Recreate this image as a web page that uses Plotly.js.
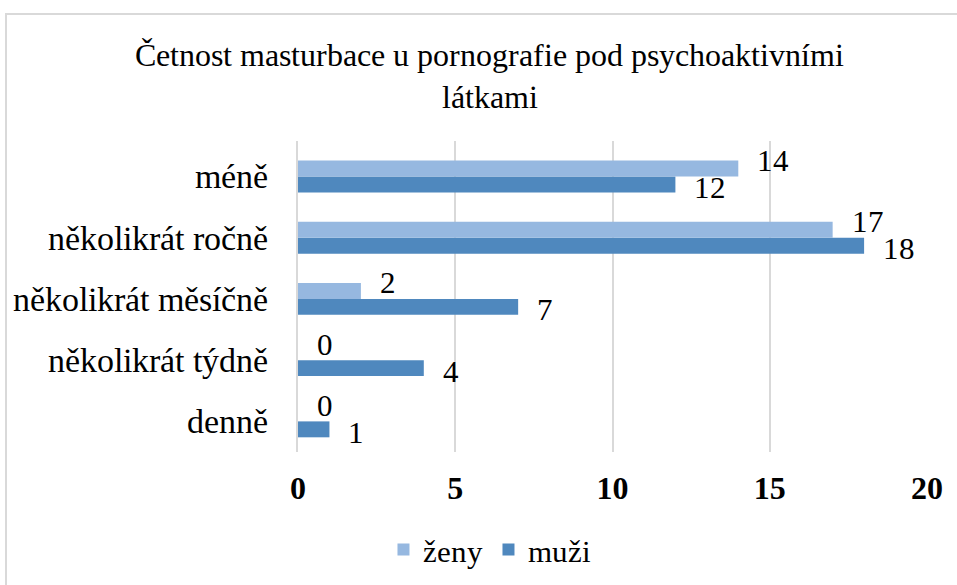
<!DOCTYPE html>
<html><head><meta charset="utf-8">
<script src="https://cdn.plot.ly/plotly-3.0.1.min.js"></script>
<style>
@font-face{font-family:'TNRLocal';src:local('Liberation Serif'),local('LiberationSerif'),local('Liberation Serif Regular'),local('Times New Roman');font-weight:400;font-style:normal;}
html,body{margin:0;padding:0;background:#fff;overflow:hidden;}
#frame{position:absolute;left:5px;top:13px;width:1000px;height:700px;border-left:2px solid #d9d9d9;border-top:2px solid #d9d9d9;}
#chart{position:absolute;left:0;top:0;width:957px;height:585px;}
</style></head>
<body>
<div id="frame"></div>
<div id="chart"></div>
<script>
const categories = ["méně","několikrát ročně","několikrát měsíčně","několikrát týdně","denně"];
const zeny = [14, 17, 2, 0, 0];
const muzi = [12, 18, 7, 4, 1];
const xTicks = [0, 5, 10, 15, 20];
const titleText = 'Četnost masturbace u pornografie pod psychoaktivními<br>látkami';

const colZeny = '#96b8e0', colMuzi = '#4f88be';

function draw(serif) {
  const traces = [
    {type:'bar', orientation:'h', name:'muži', y:categories, x:muzi, marker:{color:colMuzi}},
    {type:'bar', orientation:'h', name:'ženy', y:categories, x:zeny, marker:{color:colZeny}}
  ];
  const labelFont = {family:serif, size:31, color:'#000', weight:'normal'};
  const annotations = [];
  categories.forEach((c, i) => {
    annotations.push({x:zeny[i], y:c, xref:'x', yref:'y', text:String(zeny[i]), showarrow:false,
      xanchor:'left', yanchor:'middle', xshift:17, yshift:16, font:labelFont});
    annotations.push({x:muzi[i], y:c, xref:'x', yref:'y', text:String(muzi[i]), showarrow:false,
      xanchor:'left', yanchor:'middle', xshift:17, yshift:-11, font:labelFont});
  });
  const layout = {
    width:957, height:585,
    paper_bgcolor:'rgba(0,0,0,0)', plot_bgcolor:'rgba(0,0,0,0)',
    margin:{l:298, r:30, t:141, b:133},
    barmode:'group', bargap:0.48, bargroupgap:0,
    title:{text:titleText,
      font:{family:serif,size:32,color:'#000',weight:'normal'}, x:0.512, xanchor:'center', xref:'container',
      y:1 - 66/585, yanchor:'middle', yref:'container'},
    xaxis:{range:[0,20], tickvals:xTicks, ticktext:xTicks.map(String), showgrid:true, gridcolor:'#d9d9d9', gridwidth:2,
      zeroline:false, showline:false, ticks:'', ticklabelstandoff:14,
      tickfont:{family:'Times New Roman',size:32,color:'#000',weight:'bold'}},
    yaxis:{categoryorder:'array', categoryarray:categories.slice().reverse(), autorange:true,
      showline:true, linecolor:'#d9d9d9', linewidth:2, showgrid:false, zeroline:false,
      ticks:'', ticklabelstandoff:21, tickfont:{family:serif,size:34,color:'#000',weight:'normal'}},
    legend:{orientation:'h', x:0.512, xanchor:'center', xref:'container', y:0.06, yanchor:'middle', yref:'container',
      traceorder:'reversed', font:{family:serif,size:31,color:'#000',weight:'normal'}, itemwidth:30},
    annotations: annotations,
    showlegend:true
  };
  return Plotly.react('chart', traces, layout, {displayModeBar:false, staticPlot:true});
}

draw('Times New Roman');
if (document.fonts && document.fonts.load) {
  document.fonts.load('31px TNRLocal', 'několikrát měsíčně Č').then(function (faces) {
    if (faces && faces.length) draw('TNRLocal');
  }).catch(function () {});
}
</script>
</body></html>
